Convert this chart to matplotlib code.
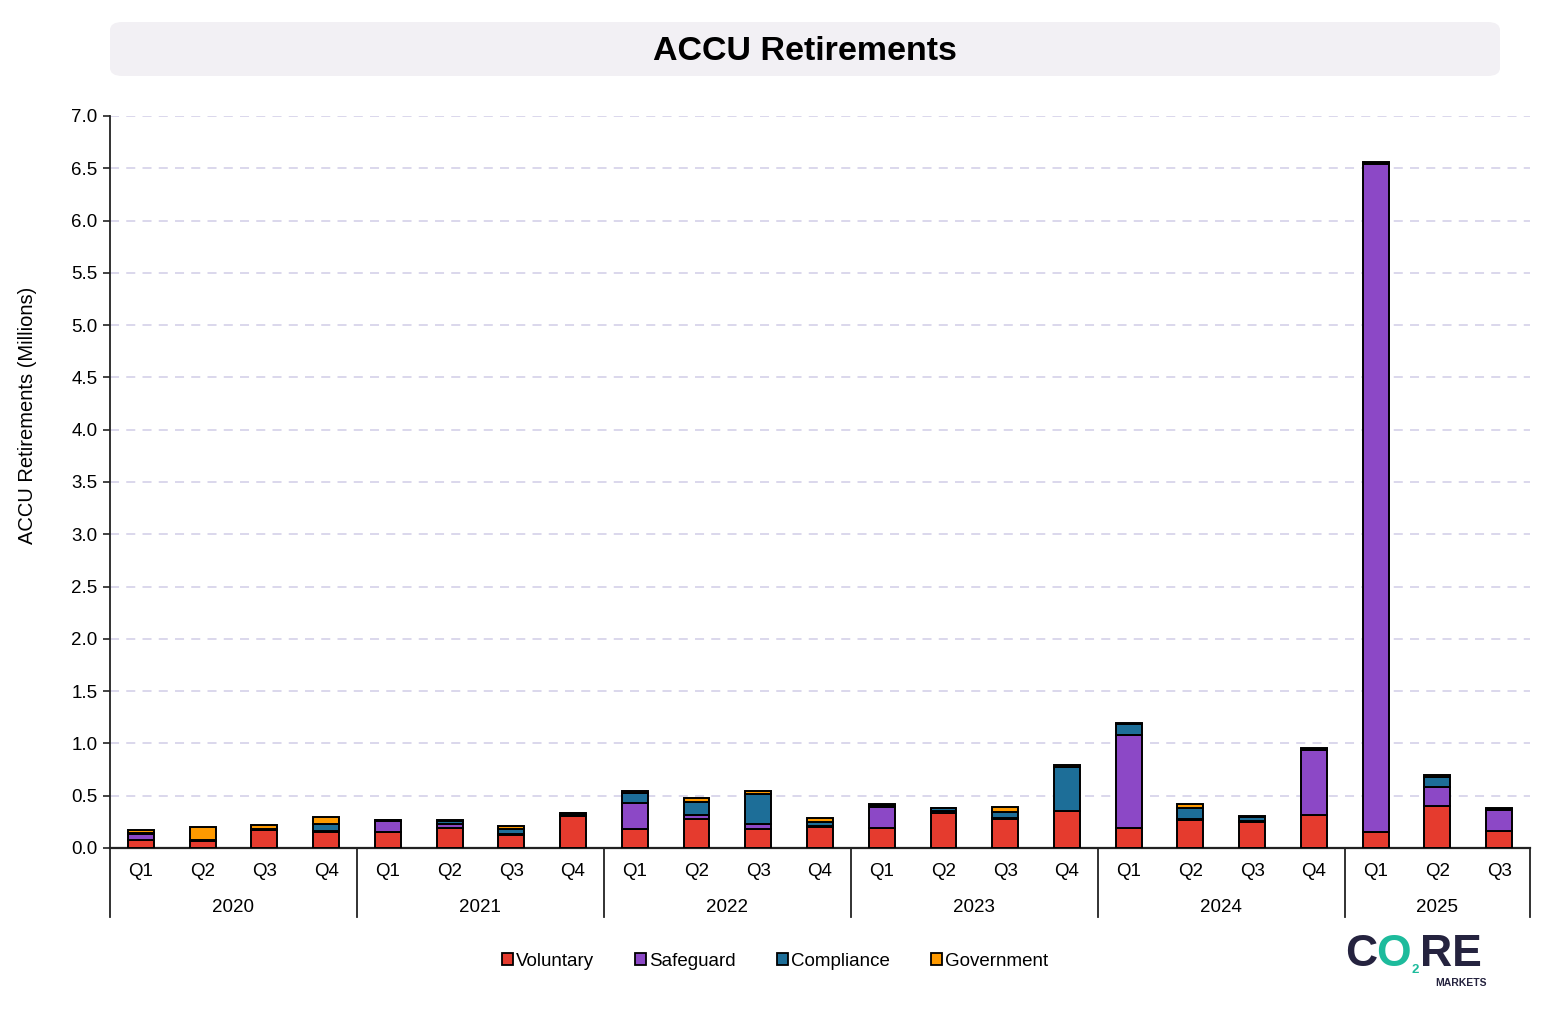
import matplotlib
matplotlib.use("Agg")
import matplotlib.pyplot as plt
from matplotlib.patches import FancyBboxPatch, Patch
import matplotlib.transforms as mtransforms
import numpy as np

plt.rcParams['font.family'] = ['Liberation Sans', 'DejaVu Sans']

years = ["2020", "2021", "2022", "2023", "2024", "2025"]
quarters = ["Q1", "Q2", "Q3", "Q4"] * 5 + ["Q1", "Q2", "Q3"]

voluntary = [0.08, 0.07, 0.175, 0.155, 0.155, 0.195, 0.125, 0.305,
             0.185, 0.28, 0.185, 0.20, 0.195, 0.33, 0.28, 0.35,
             0.195, 0.265, 0.25, 0.315, 0.15, 0.40, 0.16]
safeguard = [0.055, 0.005, 0.005, 0.01, 0.10, 0.035, 0.01, 0.01,
             0.25, 0.035, 0.045, 0.01, 0.195, 0.02, 0.01, 0.005,
             0.89, 0.01, 0.005, 0.62, 6.39, 0.18, 0.20]
compliance = [0.01, 0.005, 0.005, 0.06, 0.01, 0.03, 0.045, 0.015,
              0.09, 0.125, 0.29, 0.035, 0.025, 0.03, 0.055, 0.42,
              0.10, 0.11, 0.04, 0.015, 0.015, 0.10, 0.015]
government = [0.025, 0.125, 0.035, 0.075, 0.003, 0.005, 0.035, 0.005,
              0.02, 0.04, 0.025, 0.04, 0.005, 0.005, 0.05, 0.02,
              0.01, 0.035, 0.01, 0.005, 0.005, 0.015, 0.005]

series = [("Voluntary", voluntary, "#E53B2E"),
          ("Safeguard", safeguard, "#8C48C6"),
          ("Compliance", compliance, "#1D6E98"),
          ("Government", government, "#FF9A00")]

W, H = 1553, 1010
fig = plt.figure(figsize=(W / 100, H / 100), dpi=100)
fig.patch.set_facecolor("white")

left, right, top, bottom = 110, 1530, 116, 848
ax = fig.add_axes([left / W, 1 - bottom / H, (right - left) / W, (bottom - top) / H])

x = np.arange(len(quarters))
base = np.zeros(len(quarters))
for name, vals, col in series:
    v = np.array(vals)
    ax.bar(x, v, bottom=base, width=0.42, color=col, edgecolor="black",
           linewidth=1.4, zorder=3)
    base += v

ax.set_xlim(-0.5, len(quarters) - 0.5)
ax.set_ylim(0, 7.0)
ticks = np.arange(0, 7.01, 0.5)
ax.set_yticks(ticks)
ax.set_yticklabels([f"{t:.1f}" for t in ticks], fontsize=13.5)
ax.yaxis.grid(True, linestyle=(0, (5, 4)), color="#D8D4EA", linewidth=1.3, zorder=0)
ax.set_axisbelow(True)
ax.tick_params(axis="y", direction="out", length=5, width=1.2, color="#222222", pad=4)
ax.set_xticks([])
for s in ["top", "right"]:
    ax.spines[s].set_visible(False)
ax.spines["left"].set_color("#222222")
ax.spines["left"].set_linewidth(1.3)
ax.spines["bottom"].set_color("#222222")
ax.spines["bottom"].set_linewidth(1.6)
fig.text(28 / W, 1 - 415 / H, "ACCU Retirements (Millions)", rotation=90,
         ha="center", va="center", fontsize=14.5)

# two-level category axis
ah = bottom - top
trans = mtransforms.blended_transform_factory(ax.transData, ax.transAxes)
for i, q in enumerate(quarters):
    ax.text(i, -24 / ah, q, transform=trans, ha="center", va="center", fontsize=13.5)
starts = [0, 4, 8, 12, 16, 20]
ends = [3, 7, 11, 15, 19, 22]
for yr, s, e in zip(years, starts, ends):
    ax.text((s + e) / 2, -59 / ah, yr, transform=trans, ha="center", va="center", fontsize=13.5)
seps = [-0.5, 3.5, 7.5, 11.5, 15.5, 19.5, 22.5]
for sx in seps:
    ax.plot([sx, sx], [0, -69 / ah], transform=trans, color="#222222", lw=1.3,
            clip_on=False, zorder=4)

# title box
box = FancyBboxPatch((110 / W, 1 - 76 / H), (1500 - 110) / W, (76 - 22) / H,
                     boxstyle="round,pad=0,rounding_size=0.008",
                     transform=fig.transFigure, facecolor="#F2F0F4",
                     edgecolor="none", zorder=0)
fig.patches.append(box)
fig.text(805 / W, 1 - 51 / H, "ACCU Retirements", ha="center", va="center",
         fontsize=24.5, fontweight="bold")

# legend
handles = [Patch(facecolor=c, edgecolor="black", linewidth=1.3, label=n) for n, _, c in series]
fig.legend(handles=handles, loc="center", bbox_to_anchor=(775 / W, 1 - 961 / H),
           ncol=4, frameon=False, fontsize=13.5, handlelength=0.6, handleheight=0.6,
           handletextpad=0.15, columnspacing=2.2)

# logo text
navy = "#25233F"
teal = "#1DBB9C"
fig.text(1345 / W, 1 - 955 / H, "C", color=navy, fontsize=32, fontweight="bold",
         ha="left", va="center")
fig.text(1376 / W, 1 - 955 / H, "O", color=teal, fontsize=32, fontweight="bold",
         ha="left", va="center")
fig.text(1411 / W, 1 - 970 / H, "2", color=teal, fontsize=9.5, fontweight="bold",
         ha="left", va="center")
fig.text(1420 / W, 1 - 955 / H, "RE", color=navy, fontsize=32, fontweight="bold",
         ha="left", va="center")
fig.text(1487 / W, 1 - 983 / H, "MARKETS", color=navy, fontsize=7.5, fontweight="bold",
         ha="right", va="center")

fig.savefig("out.png", dpi=100)
